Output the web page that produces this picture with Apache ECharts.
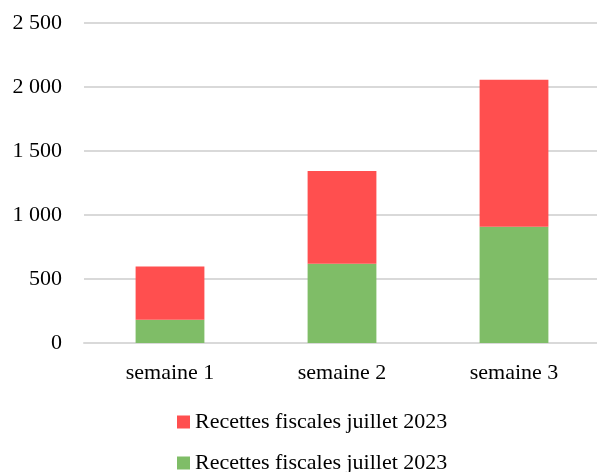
<!DOCTYPE html>
<html>
<head>
<meta charset="utf-8">
<script src="https://cdn.jsdelivr.net/npm/echarts@6/dist/echarts.min.js"></script>
<style>
  html, body { margin: 0; padding: 0; background: #fff; overflow: hidden; }
  #chart { width: 600px; height: 472px; }
</style>
</head>
<body>
<div id="chart"></div>
<script>
// Weekly tax receipts, stacked: lower (green) and upper (red) parts
const categories = ['semaine 1', 'semaine 2', 'semaine 3'];
const seriesNames = ['Recettes fiscales juillet 2023', 'Recettes fiscales juillet 2023'];
const greenValues = [182, 620, 909];
const redValues = [416, 724, 1148];
const yTicks = [0, 500, 1000, 1500, 2000, 2500];

const font = '"Liberation Serif", "Times New Roman", serif';
const GREEN = '#7FBD67';
const RED = '#FF4F4F';

function fmt(v) {
  return String(v).replace(/\B(?=(\d{3})+(?!\d))/g, ' ');
}

// one legend entry per row
function legendRow(key, top) {
  return {
    orient: 'vertical',
    left: 177,
    top: top,
    padding: 0,
    itemWidth: 13,
    itemHeight: 13,
    itemGap: 0,
    icon: 'rect',
    textStyle: { fontFamily: font, fontSize: 22, color: '#000' },
    data: [key],
    formatter: function (name) { return name === 'red' ? seriesNames[1] : seriesNames[0]; }
  };
}

const chart = echarts.init(document.getElementById('chart'), null, { renderer: 'canvas' });
chart.setOption({
  animation: false,
  backgroundColor: '#ffffff',
  grid: { left: 84, right: 0, top: 23, bottom: 129, containLabel: false },
  legend: [legendRow('red', 411), legendRow('green', 452)],
  xAxis: {
    type: 'category',
    data: categories,
    axisLine: { show: true, lineStyle: { color: '#d9d9d9', width: 2 } },
    axisTick: { show: false },
    axisLabel: { fontFamily: font, fontSize: 22, color: '#000', margin: 19 }
  },
  yAxis: {
    type: 'value',
    min: yTicks[0],
    max: yTicks[yTicks.length - 1],
    interval: 500,
    axisLine: { show: false },
    axisTick: { show: false },
    splitLine: { lineStyle: { color: '#d9d9d9', width: 2 } },
    axisLabel: { fontFamily: font, fontSize: 22, color: '#000', margin: 22, formatter: fmt }
  },
  series: [
    {
      name: 'green',
      type: 'bar',
      stack: 'total',
      barWidth: '40%',
      data: greenValues,
      itemStyle: { color: GREEN }
    },
    {
      name: 'red',
      type: 'bar',
      stack: 'total',
      barWidth: '40%',
      data: redValues,
      itemStyle: { color: RED }
    }
  ]
});
</script>
</body>
</html>
